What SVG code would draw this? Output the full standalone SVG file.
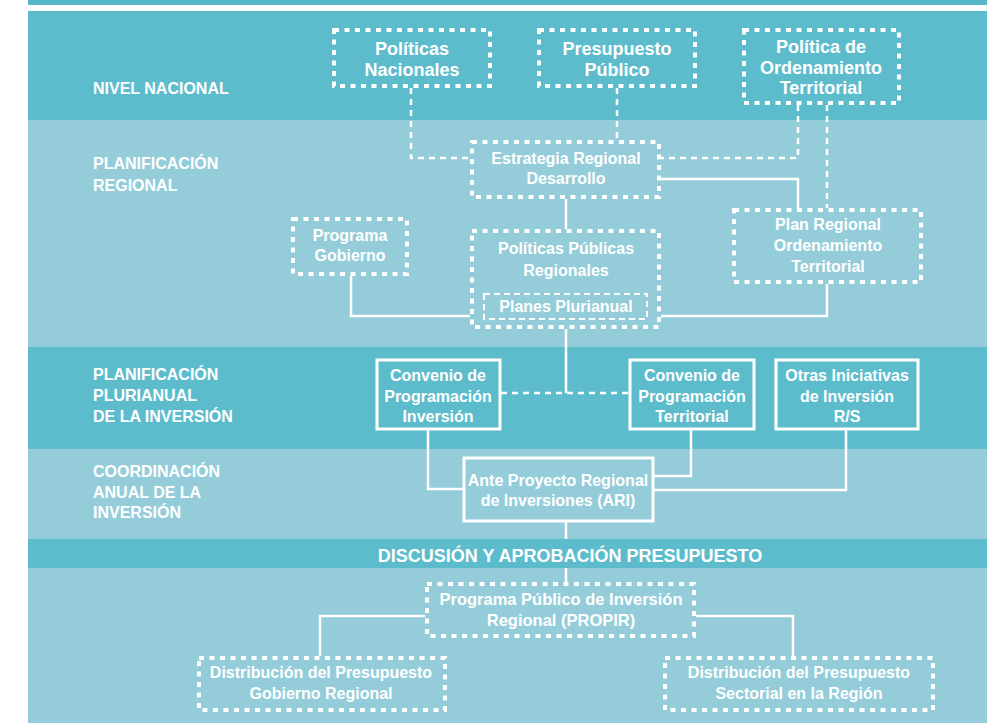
<svg xmlns="http://www.w3.org/2000/svg" width="987" height="723" viewBox="0 0 987 723">
  <style>
    .dark { fill: #5dbccc; }
    .light { fill: #94cdd9; }
    .dot { fill: none; stroke: #ffffff; stroke-width: 4; stroke-dasharray: 5 5.5; }
    .dotfine { fill: none; stroke: #ffffff; stroke-width: 2; stroke-dasharray: 6 4; }
    .solid { fill: none; stroke: #ffffff; stroke-width: 3; }
    .link { fill: none; stroke: #ffffff; stroke-width: 2.5; }
    .dlink { fill: none; stroke: #ffffff; stroke-width: 2.5; stroke-dasharray: 6 5; }
    text { font-family: "Liberation Sans", Arial, sans-serif; font-weight: bold; fill: #ffffff; }
    .lbl { font-size: 16px; }
    .n18 { font-size: 18px; text-anchor: middle; }
    .n16 { font-size: 16px; text-anchor: middle; }
    .title { font-size: 18px; text-anchor: middle; }
  </style>

  <!-- background bands -->
  <g id="bands">
    <rect x="0" y="0" width="987" height="723" fill="#ffffff"/>
    <rect x="28" y="0" width="959" height="5" fill="#55b8c9"/>
    <rect class="dark" x="28" y="11" width="959" height="109"/>
    <rect class="light" x="28" y="120" width="959" height="227"/>
    <rect class="dark" x="28" y="347" width="959" height="102"/>
    <rect class="light" x="28" y="449" width="959" height="90"/>
    <rect class="dark" x="28" y="539" width="959" height="29"/>
    <rect class="light" x="28" y="568" width="959" height="155"/>
  </g>

  <!-- level labels -->
  <g id="levels">
    <text class="lbl" x="93" y="94">NIVEL NACIONAL</text>
    <text class="lbl" x="93" y="169">PLANIFICACIÓN</text>
    <text class="lbl" x="93" y="191">REGIONAL</text>
    <text class="lbl" x="93" y="380">PLANIFICACIÓN</text>
    <text class="lbl" x="93" y="401">PLURIANUAL</text>
    <text class="lbl" x="93" y="422">DE LA INVERSIÓN</text>
    <text class="lbl" x="93" y="477">COORDINACIÓN</text>
    <text class="lbl" x="93" y="498">ANUAL DE LA</text>
    <text class="lbl" x="93" y="518">INVERSIÓN</text>
    <text class="title" x="570" y="562">DISCUSIÓN Y APROBACIÓN PRESUPUESTO</text>
  </g>

  <!-- connectors -->
  <g id="connectors">
    <path class="dlink" d="M411 88 V158 H470"/>
    <path class="dlink" d="M617 88 V140"/>
    <path class="dlink" d="M798 105 V158 H661"/>
    <path class="dlink" d="M827 105 V208"/>
    <path class="dlink" d="M501 393 H629"/>
    <path class="link" d="M566 199 V229"/>
    <path class="link" d="M351 276 V316 H470"/>
    <path class="link" d="M661 316 H827 V284"/>
    <path class="link" d="M661 179 H798 V208"/>
    <path class="link" d="M566 329 V393"/>
    <path class="link" d="M428 430 V489 H463"/>
    <path class="link" d="M691 430 V476 H654"/>
    <path class="link" d="M846 430 V490 H654"/>
    <path class="link" d="M566 522 V539"/>
    <path class="link" d="M566 568 V582"/>
    <path class="link" d="M425 616 H320 V656"/>
    <path class="link" d="M696 616 H793 V656"/>
  </g>

  <!-- national level -->
  <g id="politicas-nacionales">
    <rect class="dot" x="334" y="30" width="156" height="56"/>
    <text class="n18" x="412" y="55">Políticas</text>
    <text class="n18" x="412" y="76">Nacionales</text>
  </g>
  <g id="presupuesto-publico">
    <rect class="dot" x="539" y="30" width="156" height="56"/>
    <text class="n18" x="617" y="55">Presupuesto</text>
    <text class="n18" x="617" y="76">Público</text>
  </g>
  <g id="politica-ordenamiento">
    <rect class="dot" x="744" y="30" width="155" height="73"/>
    <text class="n18" x="821" y="53">Política de</text>
    <text class="n18" x="821" y="74">Ordenamiento</text>
    <text class="n18" x="821" y="94">Territorial</text>
  </g>

  <!-- regional planning -->
  <g id="estrategia-regional">
    <rect class="dot" x="472" y="142" width="187" height="55"/>
    <text class="n16" x="566" y="164">Estrategia Regional</text>
    <text class="n16" x="566" y="184">Desarrollo</text>
  </g>
  <g id="programa-gobierno">
    <rect class="dot" x="293" y="219" width="114" height="55"/>
    <text class="n16" x="350" y="241">Programa</text>
    <text class="n16" x="350" y="261">Gobierno</text>
  </g>
  <g id="politicas-publicas-regionales">
    <rect class="dot" x="472" y="231" width="187" height="96"/>
    <text class="n16" x="566" y="254">Políticas Públicas</text>
    <text class="n16" x="566" y="276">Regionales</text>
  </g>
  <g id="planes-plurianual">
    <rect class="dotfine" x="484" y="294" width="163" height="25"/>
    <text class="n16" x="566" y="312">Planes Plurianual</text>
  </g>
  <g id="plan-regional-ordenamiento">
    <rect class="dot" x="734" y="210" width="187" height="72"/>
    <text class="n16" x="828" y="230">Plan Regional</text>
    <text class="n16" x="828" y="251">Ordenamiento</text>
    <text class="n16" x="828" y="272">Territorial</text>
  </g>

  <!-- multi-year investment planning -->
  <g id="convenio-inversion">
    <rect class="solid" x="377" y="360" width="123" height="69"/>
    <text class="n16" x="438" y="381">Convenio de</text>
    <text class="n16" x="438" y="402">Programación</text>
    <text class="n16" x="438" y="422">Inversión</text>
  </g>
  <g id="convenio-territorial">
    <rect class="solid" x="630" y="360" width="124" height="69"/>
    <text class="n16" x="692" y="381">Convenio de</text>
    <text class="n16" x="692" y="402">Programación</text>
    <text class="n16" x="692" y="422">Territorial</text>
  </g>
  <g id="otras-iniciativas">
    <rect class="solid" x="776" y="360" width="142" height="69"/>
    <text class="n16" x="847" y="381">Otras Iniciativas</text>
    <text class="n16" x="847" y="402">de Inversión</text>
    <text class="n16" x="847" y="422">R/S</text>
  </g>

  <!-- annual coordination -->
  <g id="ari">
    <rect class="solid" x="464" y="458" width="189" height="63"/>
    <text class="n16" x="558" y="486">Ante Proyecto Regional</text>
    <text class="n16" x="558" y="506">de Inversiones (ARI)</text>
  </g>

  <!-- budget -->
  <g id="propir">
    <rect class="dot" x="427" y="584" width="267" height="52"/>
    <text class="n16" x="561" y="605" style="font-size:16.5px">Programa Público de Inversión</text>
    <text class="n16" x="561" y="626" style="font-size:16.5px">Regional (PROPIR)</text>
  </g>
  <g id="distribucion-gobierno-regional">
    <rect class="dot" x="199" y="658" width="246" height="52"/>
    <text class="n16" x="321" y="678">Distribución del Presupuesto</text>
    <text class="n16" x="321" y="699">Gobierno Regional</text>
  </g>
  <g id="distribucion-sectorial">
    <rect class="dot" x="665" y="658" width="268" height="52"/>
    <text class="n16" x="799" y="678">Distribución del Presupuesto</text>
    <text class="n16" x="799" y="699">Sectorial en la Región</text>
  </g>
</svg>
